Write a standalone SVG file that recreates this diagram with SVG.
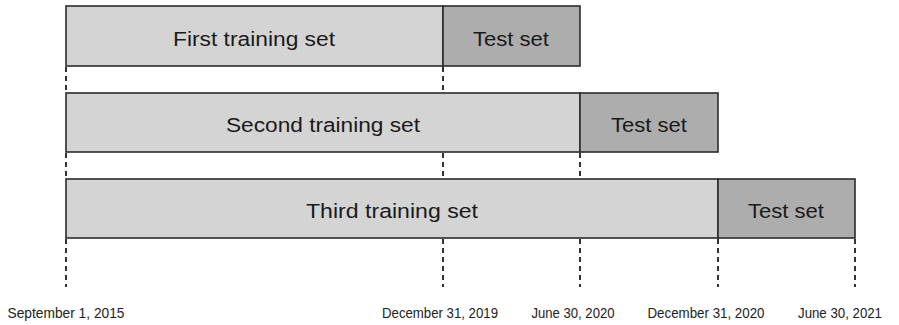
<svg xmlns="http://www.w3.org/2000/svg" width="899" height="325" viewBox="0 0 899 325">
<style>
.train{fill:#d4d4d4;stroke:#2b2b2b;stroke-width:1.6}
.test{fill:#adadad;stroke:#2b2b2b;stroke-width:1.6}
.lbl{font-family:"Liberation Sans",Arial,sans-serif;font-size:20px;fill:#1a1a1a;text-anchor:middle}
.date{font-family:"Liberation Sans",Arial,sans-serif;font-size:14.5px;fill:#222;text-anchor:middle}
.dash{stroke:#333;stroke-width:2;stroke-dasharray:5,4;fill:none}
</style>
<rect width="899" height="325" fill="#fff"/>
<g id="connectors">
<path class="dash" d="M66,67V93M443,67V93M66,153V179M443,153V179M580,153V179M66,239V287M443,239V287M580,239V287M718,239V287M855,239V287"/>
</g>
<g id="first-training"><rect class="train" x="66" y="6" width="377" height="60"/><text class="lbl" x="254" y="46" textLength="162" lengthAdjust="spacingAndGlyphs">First training set</text></g>
<g id="first-test"><rect class="test" x="443" y="6" width="137" height="60"/><text class="lbl" x="511" y="46" textLength="76" lengthAdjust="spacingAndGlyphs">Test set</text></g>
<g id="second-training"><rect class="train" x="66" y="93" width="514" height="59"/><text class="lbl" x="323" y="132" textLength="194" lengthAdjust="spacingAndGlyphs">Second training set</text></g>
<g id="second-test"><rect class="test" x="580" y="93" width="138" height="59"/><text class="lbl" x="649" y="132" textLength="76" lengthAdjust="spacingAndGlyphs">Test set</text></g>
<g id="third-training"><rect class="train" x="66" y="179" width="652" height="59"/><text class="lbl" x="392" y="218" textLength="172" lengthAdjust="spacingAndGlyphs">Third training set</text></g>
<g id="third-test"><rect class="test" x="718" y="179" width="137" height="59"/><text class="lbl" x="786" y="218" textLength="76" lengthAdjust="spacingAndGlyphs">Test set</text></g>
<g id="dates">
<text class="date" x="66" y="318" textLength="117" lengthAdjust="spacingAndGlyphs">September 1, 2015</text>
<text class="date" x="440" y="318" textLength="116" lengthAdjust="spacingAndGlyphs">December 31, 2019</text>
<text class="date" x="573" y="318" textLength="83" lengthAdjust="spacingAndGlyphs">June 30, 2020</text>
<text class="date" x="706" y="318" textLength="117" lengthAdjust="spacingAndGlyphs">December 31, 2020</text>
<text class="date" x="840" y="318" textLength="84" lengthAdjust="spacingAndGlyphs">June 30, 2021</text>
</g>
</svg>
